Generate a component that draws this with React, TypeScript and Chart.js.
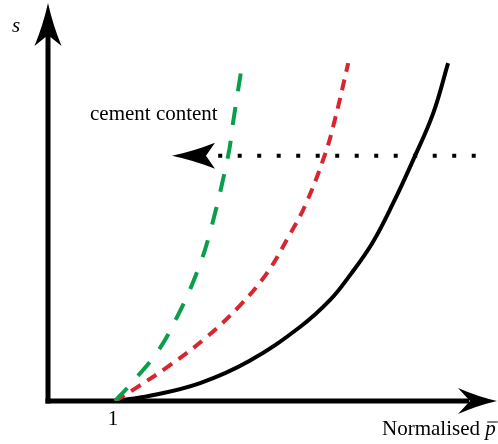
import React, { useEffect, useRef } from "react";
import { Chart, registerables } from "chart.js";

Chart.register(...registerables);

// Normalised p̄ (x) and s (y) values
const blackP = [1.0, 1.52, 2.27, 3.01, 3.76, 4.21, 4.51, 4.84, 5.15, 5.45, 5.75, 5.97];
const blackS = [0, 0.13, 0.45, 1.01, 1.86, 2.54, 3.17, 3.97, 4.97, 6.06, 7.24, 8.49];

const redP = [1.0, 1.27, 1.82, 2.37, 2.87, 3.27, 3.58, 3.84, 4.13, 4.28, 4.48];
const redS = [0, 0.28, 0.9, 1.61, 2.41, 3.22, 4.1, 4.92, 6.18, 7.06, 8.49];

const greenP = [1.0, 1.22, 1.63, 1.94, 2.22, 2.42, 2.69, 2.76, 2.9];
const greenS = [0, 0.4, 1.23, 2.16, 3.22, 4.25, 6.18, 6.98, 8.49];

// dotted "cement content" arrow
const dottedP = [2.54, 6.52];
const dottedS = [6.16, 6.16];
const dottedArrowTipP = 1.85;

const xTickValue = 1;
const xTickLabel = "1";
const xAxisLabel = "Normalised ";
const xAxisSymbol = "p";
const yAxisSymbol = "s";
const annotationText = "cement content";

const X_MAX = 6.7;
const Y_MAX = 10;

const toPoints = (xs: number[], ys: number[]) => xs.map((x, i) => ({ x, y: ys[i] }));

function arrowHead(
  ctx: CanvasRenderingContext2D,
  tx: number,
  ty: number,
  dx: number,
  dy: number,
  len: number,
  half: number,
  notch: number
) {
  const px = -dy;
  const py = dx;
  const bx = tx - dx * len;
  const by = ty - dy * len;
  const nx = tx - dx * (len - notch);
  const ny = ty - dy * (len - notch);
  const c1x = bx + px * half;
  const c1y = by + py * half;
  const c2x = bx - px * half;
  const c2y = by - py * half;
  const m1x = (tx + c1x) / 2 - px * 2;
  const m1y = (ty + c1y) / 2 - py * 2;
  const m2x = (tx + c2x) / 2 + px * 2;
  const m2y = (ty + c2y) / 2 + py * 2;
  ctx.beginPath();
  ctx.moveTo(tx, ty);
  ctx.quadraticCurveTo(m1x, m1y, c1x, c1y);
  ctx.lineTo(nx, ny);
  ctx.lineTo(c2x, c2y);
  ctx.quadraticCurveTo(m2x, m2y, tx, ty);
  ctx.closePath();
  ctx.fillStyle = "#000";
  ctx.fill();
}

const schematicPlugin = {
  id: "schematic",
  beforeDatasetsDraw(chart: any) {
    const { ctx, scales } = chart;
    const xs = scales.x;
    const ys = scales.y;
    const ox = xs.getPixelForValue(0);
    const oy = ys.getPixelForValue(0);
    const xt = xs.getPixelForValue(X_MAX);
    const yt = ys.getPixelForValue(Y_MAX);
    ctx.save();
    ctx.strokeStyle = "#000";
    ctx.lineWidth = 5;
    ctx.lineCap = "butt";
    ctx.beginPath();
    ctx.moveTo(ox, oy + 2.5);
    ctx.lineTo(ox, yt + 30);
    ctx.stroke();
    ctx.beginPath();
    ctx.moveTo(ox - 2.5, oy);
    ctx.lineTo(xt - 28, oy);
    ctx.stroke();
    ctx.restore();
  },
  afterDatasetsDraw(chart: any) {
    const { ctx, scales } = chart;
    const xs = scales.x;
    const ys = scales.y;
    const ox = xs.getPixelForValue(0);
    const oy = ys.getPixelForValue(0);
    const xt = xs.getPixelForValue(X_MAX);
    const yt = ys.getPixelForValue(Y_MAX);
    ctx.save();
    arrowHead(ctx, ox, yt, 0, -1, 43, 13.5, 11);
    arrowHead(ctx, xt, oy, 1, 0, 39, 13, 12);
    const ax = xs.getPixelForValue(dottedArrowTipP);
    const ay = ys.getPixelForValue(dottedS[0]);
    arrowHead(ctx, ax, ay, -1, 0, 43, 13, 9);

    ctx.fillStyle = "#000";
    ctx.textBaseline = "alphabetic";
    ctx.font = "21px 'Liberation Serif'";
    ctx.textAlign = "center";
    ctx.fillText(xTickLabel, xs.getPixelForValue(xTickValue) - 2, oy + 24);
    ctx.textAlign = "left";
    ctx.fillText(annotationText, 90, 120);
    const labelX = 382;
    const labelY = 435;
    ctx.fillText(xAxisLabel, labelX, labelY);
    const w = ctx.measureText(xAxisLabel).width;
    ctx.font = "italic 21px 'Liberation Serif'";
    const px = labelX + w;
    ctx.fillText(xAxisSymbol, px, labelY);
    const pw = ctx.measureText(xAxisSymbol).width;
    ctx.lineWidth = 1;
    ctx.strokeStyle = "#000";
    ctx.beginPath();
    ctx.moveTo(px + 2, labelY - 13);
    ctx.lineTo(px + pw + 2, labelY - 13);
    ctx.stroke();
    ctx.fillText(yAxisSymbol, 12, 32);
    ctx.restore();
  },
};

export default function App() {
  const ref = useRef<HTMLCanvasElement | null>(null);
  useEffect(() => {
    if (!ref.current) return;
    const chart = new Chart(ref.current, {
      type: "line",
      data: {
        datasets: [
          {
            data: toPoints(greenP, greenS),
            borderColor: "#0a9e4a",
            borderWidth: 4,
            borderDash: [18, 16],
            tension: 0.4,
            pointRadius: 0,
            fill: false,
          },
          {
            data: toPoints(redP, redS),
            borderColor: "#d6262f",
            borderWidth: 4,
            borderDash: [11, 8],
            tension: 0.4,
            pointRadius: 0,
            fill: false,
          },
          {
            data: toPoints(blackP, blackS),
            borderColor: "#000",
            borderWidth: 4,
            tension: 0.4,
            pointRadius: 0,
            fill: false,
          },
          {
            data: toPoints(dottedP, dottedS),
            borderColor: "#000",
            borderWidth: 4,
            borderDash: [4, 15.5],
            borderCapStyle: "butt",
            pointRadius: 0,
            fill: false,
          },
        ] as any,
      },
      options: {
        animation: false,
        responsive: false,
        maintainAspectRatio: false,
        devicePixelRatio: 1,
        layout: { padding: { left: 48, top: 3, right: 1, bottom: 43 } },
        plugins: { legend: { display: false }, tooltip: { enabled: false } },
        events: [],
        scales: {
          x: { type: "linear", min: 0, max: X_MAX, display: false },
          y: { type: "linear", min: 0, max: Y_MAX, display: false },
        },
      } as any,
      plugins: [schematicPlugin],
    });
    return () => chart.destroy();
  }, []);
  return (
    <div style={{ position: "fixed", left: 0, top: 0, width: 498, height: 444, background: "#fff" }}>
      <canvas ref={ref} width={498} height={444} style={{ width: 498, height: 444, display: "block" }} />
    </div>
  );
}
